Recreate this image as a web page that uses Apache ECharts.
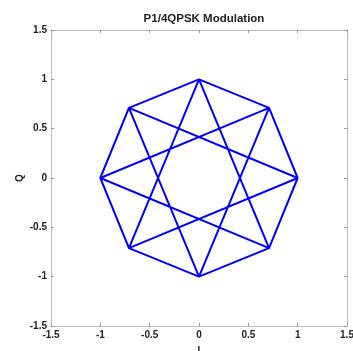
<!DOCTYPE html>
<html><head><meta charset="utf-8">
<script src="https://cdn.jsdelivr.net/npm/echarts@6/dist/echarts.min.js"></script>
<style>html,body{margin:0;padding:0;background:#fff}#c{width:353px;height:351px}</style>
</head><body><div id="c"></div>
<script>
// Constellation points (I, Q) of pi/4-QPSK, index k at angle k*45deg
const pointI = [1, 0.71, 0, -0.71, -1, -0.71, 0, 0.71];
const pointQ = [0, 0.71, 1, 0.71, 0, -0.71, -1, -0.71];
// Transition paths (point indices): +-45deg (octagon) and +-135deg (star)
const octagonPath = [0, 1, 2, 3, 4, 5, 6, 7, 0];
const starPath = [0, 3, 6, 1, 4, 7, 2, 5, 0];
const tickValues = [-1.5, -1, -0.5, 0, 0.5, 1, 1.5];

const toData = p => p.map(k => [pointI[k], pointQ[k]]);
const chart = echarts.init(document.getElementById('c'), null, {renderer: 'canvas'});
const axisCommon = {
  type: 'value', min: -1.5, max: 1.5, interval: 0.5,
  axisLine: {show: true, onZero: false, lineStyle: {color: '#bbbbbb', width: 1}},
  axisTick: {show: true, inside: true, length: 3, lineStyle: {color: '#999999'}},
  splitLine: {show: false}
};
const lbl = {color: '#222', fontFamily: 'Liberation Sans, Arial, sans-serif', fontWeight: 'bold', fontSize: 10};
chart.setOption({
  animation: false,
  backgroundColor: '#fff',
  title: {text: 'P1/4QPSK Modulation', left: 199, top: 8, textAlign: 'center',
    textStyle: {fontSize: 11.5, fontWeight: 'bold', color: '#222', fontFamily: 'Liberation Sans, Arial, sans-serif'}},
  grid: {left: 51, right: 6, top: 30, bottom: 25, containLabel: false, outerBoundsMode: 'none'},
  xAxis: [
    Object.assign({}, axisCommon, {position: 'bottom', name: 'I', nameLocation: 'middle', nameGap: 20, nameMoveOverlap: false,
      nameTextStyle: lbl, axisLabel: Object.assign({margin: 4, showMinLabel: true, showMaxLabel: true}, lbl)}),
    Object.assign({}, axisCommon, {position: 'top', axisLabel: {show: false}})
  ],
  yAxis: [
    Object.assign({}, axisCommon, {position: 'left', name: 'Q', nameLocation: 'middle', nameGap: 26, nameRotate: 90, nameMoveOverlap: false,
      nameTextStyle: lbl, axisLabel: Object.assign({margin: 4, showMinLabel: true, showMaxLabel: true}, lbl)}),
    Object.assign({}, axisCommon, {position: 'right', axisLabel: {show: false}})
  ],
  series: [
    {type: 'line', data: toData(octagonPath), showSymbol: false, lineStyle: {color: '#0000ff', width: 2}},
    {type: 'line', data: toData(starPath), showSymbol: false, lineStyle: {color: '#0000ff', width: 2}}
  ]
});
</script></body></html>
